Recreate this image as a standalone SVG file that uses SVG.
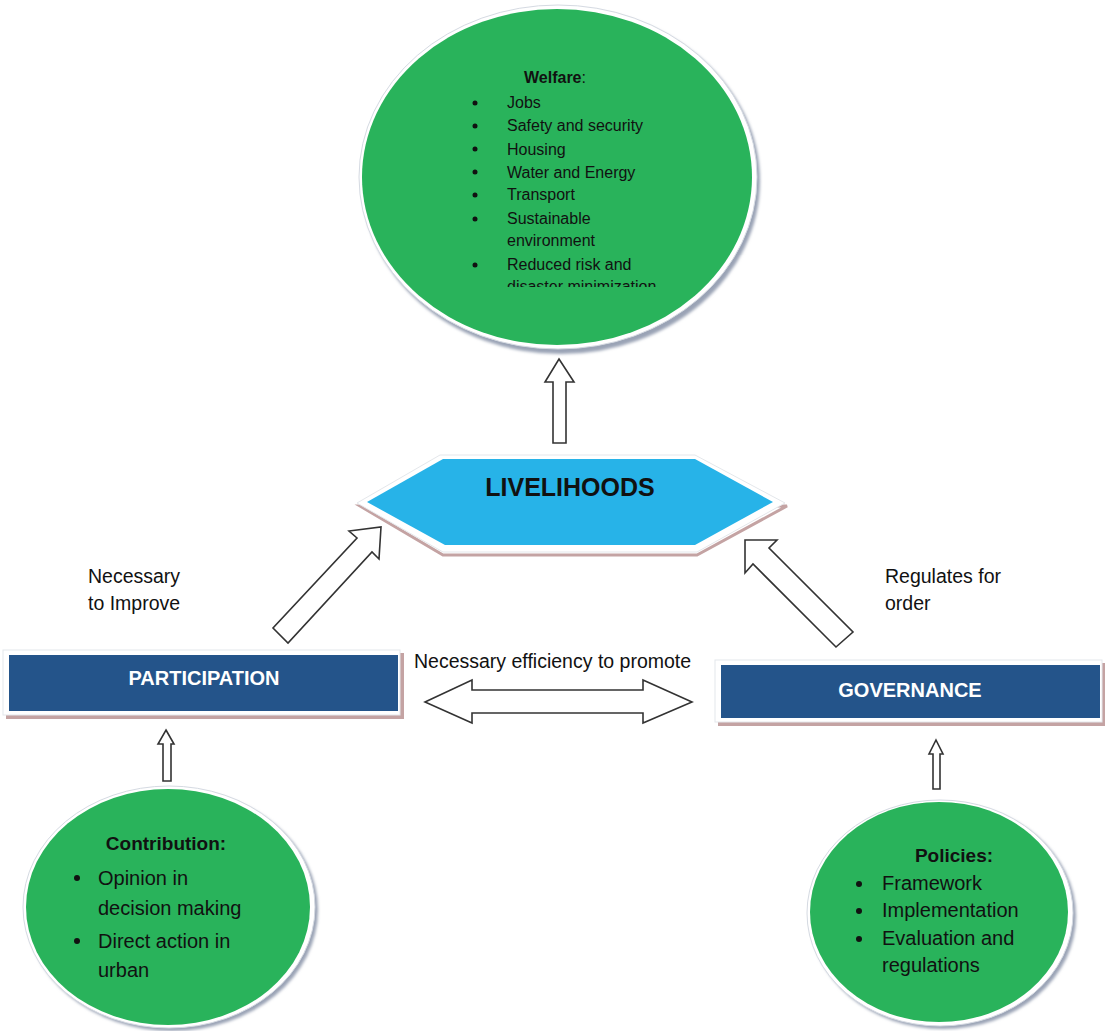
<svg xmlns="http://www.w3.org/2000/svg" width="1107" height="1031" viewBox="0 0 1107 1031">
<style>
.t{font-family:"Liberation Sans",Arial,sans-serif;fill:#111}
.b{font-weight:bold}
.w16{font-size:16px}
.w20{font-size:20px}
.lbl{font-family:"Liberation Sans",Arial,sans-serif;font-size:19.5px;fill:#111}
.box{fill:#24548a}
.boxw{fill:#ffffff;stroke:#e4e7eb;stroke-width:1}
.boxs{fill:#c4a3a3}
.btxt{font-family:"Liberation Sans",Arial,sans-serif;font-weight:bold;font-size:20px;fill:#ffffff}
.green{fill:#29b35b}
.ring{fill:#ffffff;stroke:#d5dae2;stroke-width:1}
.shad{fill:#9aa3b5}
.arr{fill:#ffffff;stroke:#333333;stroke-width:1.6;stroke-linejoin:miter}
</style>
<defs>
<filter id="blur" x="-10%" y="-10%" width="120%" height="120%"><feGaussianBlur stdDeviation="1.5"/></filter>
<clipPath id="wclip"><rect x="360" y="0" width="400" height="287"/></clipPath>
</defs>
<rect width="1107" height="1031" fill="#ffffff"/>

<g id="welfare">
<ellipse class="shad" cx="561" cy="181" rx="199" ry="173" filter="url(#blur)"/>
<ellipse class="ring" cx="558" cy="177" rx="199" ry="172"/>
<ellipse class="green" cx="557" cy="177" rx="195" ry="168"/>
<text class="t b w16" x="524" y="83">Welfare<tspan font-weight="normal">:</tspan></text>
<g class="t w16">
<circle cx="475" cy="103" r="2.5" fill="#111"/><text x="507" y="108">Jobs</text>
<circle cx="475" cy="126" r="2.5" fill="#111"/><text x="507" y="131">Safety and security</text>
<circle cx="475" cy="149" r="2.5" fill="#111"/><text x="507" y="155">Housing</text>
<circle cx="475" cy="172" r="2.5" fill="#111"/><text x="507" y="178">Water and Energy</text>
<circle cx="475" cy="195" r="2.5" fill="#111"/><text x="507" y="200">Transport</text>
<circle cx="475" cy="219" r="2.5" fill="#111"/><text x="507" y="224">Sustainable</text>
<text x="507" y="246">environment</text>
<circle cx="475" cy="265" r="2.5" fill="#111"/><text x="507" y="270">Reduced risk and</text>
<text x="507" y="292" clip-path="url(#wclip)">disaster minimization</text>
</g>
</g>

<g id="livelihoods">
<polygon points="360,506 443,555 697,555 787,506" fill="none" stroke="#c4a3a3" stroke-width="3"/>
<polygon points="440,455 695,455 785,503 697,552 443,552 357,503" fill="#ffffff" stroke="#e4e7eb" stroke-width="1"/>
<polygon points="443,459 695,459 773,502 695,545 445,545 367,502" fill="#27b3e8"/>
<text class="t b" x="570" y="496" font-size="25" text-anchor="middle">LIVELIHOODS</text>
</g>

<g id="participation">
<rect class="boxs" x="6" y="653" width="398" height="66"/>
<rect class="boxw" x="3" y="650" width="397" height="65"/>
<rect class="box" x="9" y="655" width="389" height="56"/>
<text class="btxt" x="204" y="685" text-anchor="middle">PARTICIPATION</text>
</g>

<g id="governance">
<rect class="boxs" x="718" y="663" width="387" height="63"/>
<rect class="boxw" x="715" y="660" width="387" height="62"/>
<rect class="box" x="721" y="665" width="379" height="53"/>
<text class="btxt" x="910" y="697" text-anchor="middle">GOVERNANCE</text>
</g>

<g id="contribution">
<ellipse class="shad" cx="172" cy="910" rx="146" ry="121" filter="url(#blur)"/>
<ellipse class="ring" cx="169" cy="907" rx="146" ry="121"/>
<ellipse class="green" cx="168" cy="907" rx="142" ry="118"/>
<text class="t b" x="166" y="850" font-size="19" text-anchor="middle">Contribution:</text>
<g class="t w20">
<circle cx="77" cy="878" r="3" fill="#111"/><text x="98" y="885">Opinion in</text>
<text x="98" y="915">decision making</text>
<circle cx="77" cy="941" r="3" fill="#111"/><text x="98" y="948">Direct action in</text>
<text x="98" y="977">urban</text>
</g>
</g>

<g id="policies">
<ellipse class="shad" cx="943" cy="916" rx="133" ry="113" filter="url(#blur)"/>
<ellipse class="ring" cx="940" cy="913" rx="133" ry="113"/>
<ellipse class="green" cx="939" cy="912" rx="129" ry="110"/>
<text class="t b" x="954" y="862" font-size="19" text-anchor="middle">Policies:</text>
<clipPath id="pclip"><rect x="800" y="800" width="227" height="230"/></clipPath>
<g class="t w20">
<circle cx="859" cy="884" r="3" fill="#111"/><text x="882" y="890">Framework</text>
<circle cx="859" cy="911" r="3" fill="#111"/><text x="882" y="917" clip-path="url(#pclip)">Implementation</text>
<circle cx="859" cy="939" r="3" fill="#111"/><text x="882" y="945">Evaluation and</text>
<text x="882" y="972">regulations</text>
</g>
</g>

<g id="connectors">
<polygon class="arr" points="559,359 574,382 566,382 566,443 553,443 553,382 545,382"/>
<polygon class="arr" points="381,527 379,559 372,552 288,643 273,628 357,538 349,531"/>
<polygon class="arr" points="745,540 777,540 769,548 853,632 836,647 753,564 745,573"/>
<polygon class="arr" points="425,702 472,680 472,690 643,690 643,680 692,702 643,723 643,713 472,713 472,723"/>
<polygon class="arr" points="166,730 174,744 171,744 171,781 163,781 163,744 158,744"/>
<polygon class="arr" points="936,740 943,754 940,754 940,789 933,789 933,754 929,754"/>
</g>

<g id="labels">
<text class="lbl" x="88" y="583">Necessary</text>
<text class="lbl" x="88" y="610">to Improve</text>
<text class="lbl" x="885" y="583">Regulates for</text>
<text class="lbl" x="885" y="610">order</text>
<text class="lbl" x="414" y="668">Necessary efficiency to promote</text>
</g>
</svg>
